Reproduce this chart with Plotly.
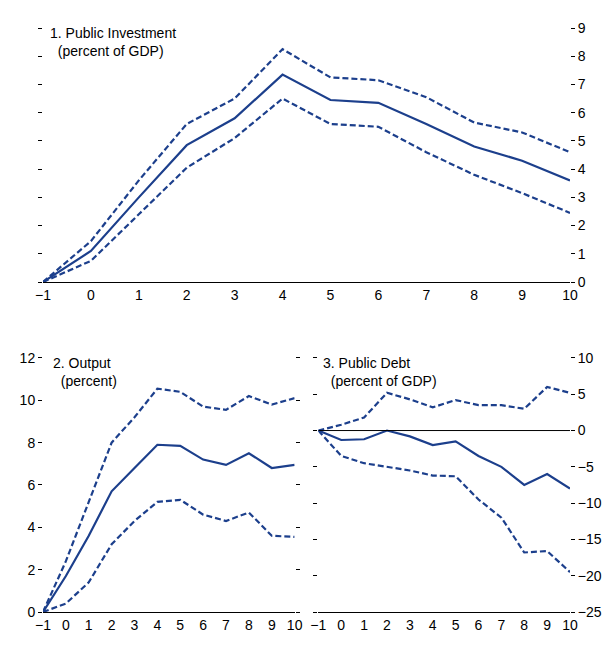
import plotly.graph_objects as go
from plotly.subplots import make_subplots

x = list(range(-1, 11))

inv_mid = [0, 1.1, 3.0, 4.85, 5.8, 7.35, 6.45, 6.35, 5.6, 4.8, 4.3, 3.6]
inv_hi = [0, 1.45, 3.6, 5.6, 6.5, 8.25, 7.25, 7.15, 6.55, 5.65, 5.3, 4.6]
inv_lo = [0, 0.75, 2.4, 4.05, 5.1, 6.5, 5.6, 5.5, 4.6, 3.8, 3.15, 2.45]

out_mid = [0, 1.7, 3.6, 5.7, 6.8, 7.9, 7.85, 7.2, 6.95, 7.5, 6.8, 6.95]
out_hi = [0, 2.4, 5.2, 8.0, 9.2, 10.55, 10.4, 9.7, 9.55, 10.2, 9.8, 10.1]
out_lo = [0, 0.4, 1.4, 3.2, 4.3, 5.2, 5.3, 4.6, 4.3, 4.7, 3.6, 3.55]

debt_mid = [0, -1.3, -1.2, 0, -0.8, -2, -1.5, -3.5, -5, -7.5, -6, -8]
debt_hi = [0, 0.8, 1.8, 5.2, 4.3, 3.2, 4.2, 3.5, 3.5, 3.0, 6.0, 5.2]
debt_lo = [0, -3.5, -4.5, -5, -5.5, -6.2, -6.3, -9.5, -12, -16.8, -16.6, -19.5]

navy = "#1c3f8c"
fig = make_subplots(rows=2, cols=2, specs=[[{"colspan": 2}, None], [{}, {}]],
                    vertical_spacing=0.13, horizontal_spacing=0.045)

def add(mid, hi, lo, r, c):
    for y, d in [(hi, "6px,3px"), (mid, "solid"), (lo, "6px,3px")]:
        fig.add_trace(go.Scatter(x=x, y=y, mode="lines", showlegend=False,
                                 line=dict(color=navy, width=2.2, dash=d)), row=r, col=c)

add(inv_mid, inv_hi, inv_lo, 1, 1)
add(out_mid, out_hi, out_lo, 2, 1)
add(debt_mid, debt_hi, debt_lo, 2, 2)
fig.add_trace(go.Scatter(x=[-1, 10], y=[0, 0], mode="lines", showlegend=False,
                         line=dict(color="black", width=1)), row=2, col=2)

xax = dict(range=[-1, 10], tickvals=x, showgrid=False, zeroline=False, showline=True,
           linecolor="black", ticks="", tickfont=dict(size=14))
fig.update_xaxes(**xax)
yax = dict(showgrid=False, zeroline=False, ticks="outside", ticklen=4, mirror="ticks",
           tickcolor="black", tickfont=dict(size=14))
fig.update_yaxes(**yax)
fig.update_yaxes(row=1, col=1, range=[0, 9], dtick=1, side="right")
fig.update_yaxes(row=2, col=1, range=[0, 12], dtick=2, side="left")
fig.update_yaxes(row=2, col=2, range=[-25, 10], dtick=5, side="right")

def title(text, xref, yref, xv, yv):
    fig.add_annotation(text=text, xref=xref, yref=yref, x=xv, y=yv, showarrow=False,
                       xanchor="left", yanchor="top", align="left",
                       font=dict(size=14, color="black"))

title("1. Public Investment<br>  (percent of GDP)", "x domain", "y domain", 0.01, 1.02)
title("2. Output<br>  (percent)", "x2 domain", "y2 domain", 0.03, 1.02)
title("3. Public Debt<br>  (percent of GDP)", "x3 domain", "y3 domain", 0.01, 1.02)

fig.update_layout(width=614, height=660, plot_bgcolor="white", paper_bgcolor="white",
                  font=dict(family="Liberation Sans Narrow, Liberation Sans", color="black"),
                  margin=dict(l=22, r=52, t=14, b=56))
fig.write_html("out.html")
